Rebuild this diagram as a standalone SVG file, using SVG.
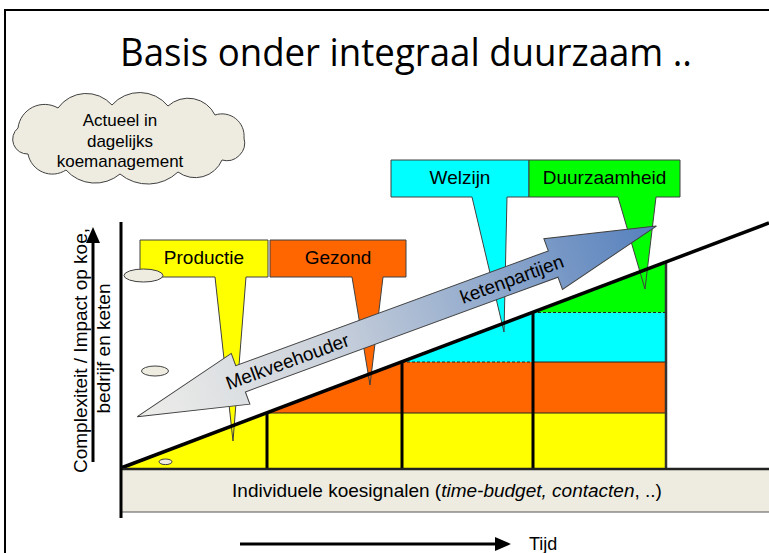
<svg xmlns="http://www.w3.org/2000/svg" width="769" height="553" viewBox="0 0 769 553">
<defs>
<linearGradient id="arrowGrad" gradientUnits="userSpaceOnUse" x1="0" y1="0" x2="553" y2="0">
<stop offset="0" stop-color="#EEEEEA"/>
<stop offset="0.35" stop-color="#CDD3DC"/>
<stop offset="1" stop-color="#5580BD"/>
</linearGradient>
<marker id="ah" markerWidth="16" markerHeight="14" refX="0" refY="7" orient="auto" markerUnits="userSpaceOnUse">
<path d="M0,0 L16,7 L0,14 Z" fill="#000"/>
</marker>
</defs>
<style>
text{font-family:"Liberation Sans",Arial,sans-serif;fill:#000;}
.lbl{font-size:19px;text-anchor:middle;}
.co{stroke:#404040;stroke-width:1;}
.bub{fill:#EEECE1;stroke:#404040;stroke-width:1;}
.thin{stroke:#222;stroke-width:1;fill:none;}
.dash{stroke:#222;stroke-width:1;stroke-dasharray:3,2;fill:none;}
.thick{stroke:#000;stroke-width:3;fill:none;}
</style>
<rect width="769" height="553" fill="#fff"/>
<rect x="5" y="10" width="800" height="600" fill="none" stroke="#000" stroke-width="2"/>
<text x="120" y="66" font-size="38" textLength="572" lengthAdjust="spacingAndGlyphs" style="font-family:'Open Sans','Liberation Sans',sans-serif">Basis onder integraal duurzaam ..</text>

<g id="cloud">
<path class="bub" d="M18,128 A26.8,26.8 0 0 1 58,108 A34.6,34.6 0 0 1 112,105 A36.7,36.7 0 0 1 168,106 A29.9,29.9 0 0 1 215,115 A22.1,22.1 0 0 1 244,138 A17.9,17.9 0 0 1 222,160 A29.1,29.1 0 0 1 178,172 A43.7,43.7 0 0 1 120,174 A38.8,38.8 0 0 1 66,170 A24.8,24.8 0 0 1 28,154 A14.7,14.7 0 0 1 18,128 Z"/>
<text x="120" y="126" font-size="17" text-anchor="middle">Actueel in</text>
<text x="120" y="146.5" font-size="17" text-anchor="middle">dagelijks</text>
<text x="120" y="167" font-size="17" text-anchor="middle">koemanagement</text>
</g>

<g id="y-axis-label">
<text class="lbl" transform="translate(86.7,350.5) rotate(-90)">Complexiteit / Impact op koe,</text>
<text class="lbl" transform="translate(110,348.5) rotate(-90)">bedrijf en keten</text>
</g>

<g id="bars">
<polygon points="121,468 267,412.8 267,469 121,469" fill="#FFFF00"/>
<rect x="267" y="413" width="399" height="56" fill="#FFFF00"/>
<polygon points="267,413 402,361.8 402,413" fill="#FF6600"/>
<rect x="402" y="362" width="264" height="51" fill="#FF6600"/>
<polygon points="402,362 533,312.2 533,362" fill="#00FFFF"/>
<rect x="533" y="312.5" width="133" height="49.5" fill="#00FFFF"/>
<polygon points="533,312.5 666,261.9 666,312.5" fill="#00FF00"/>
<line class="thin" x1="267" y1="413" x2="666" y2="413"/>
<line class="dash" x1="402" y1="362" x2="533" y2="362"/>
<line class="thin" x1="533" y1="362" x2="666" y2="362"/>
<line class="dash" x1="533" y1="312.5" x2="666" y2="312.5"/>
</g>

<g id="base-box">
<rect x="121" y="469" width="660" height="43" fill="#EEECE1" stroke="#555" stroke-width="1"/>
<text class="lbl" x="447" y="497">Individuele koesignalen (<tspan font-style="italic">time-budget, contacten</tspan>, ..)</text>
</g>

<g id="callout-productie">
<path class="co" fill="#FFFF00" d="M140,240 H268 V277 H246 L233,441 L215,277 H140 Z"/>
<text class="lbl" x="204" y="264">Productie</text>
</g>
<g id="callout-gezond">
<path class="co" fill="#FF6600" d="M270,240 H406 V277 H383 L370,385 L352,277 H270 Z"/>
<text class="lbl" x="338" y="264">Gezond</text>
</g>
<g id="callout-welzijn">
<path class="co" fill="#00FFFF" d="M391,160 H529 V197 H507 L504,332 L472,197 H391 Z"/>
<text class="lbl" x="460" y="184">Welzijn</text>
</g>
<g id="callout-duurzaamheid">
<path class="co" fill="#00FF00" d="M529,160 H680 V197 H656 L645,289 L618,197 H529 Z"/>
<text class="lbl" x="604.5" y="184">Duurzaamheid</text>
</g>

<g id="chart-lines">
<line class="thick" x1="267" y1="412.8" x2="267" y2="469"/>
<line class="thick" x1="402" y1="361.8" x2="402" y2="469"/>
<line class="thick" x1="533" y1="312.2" x2="533" y2="469"/>
<line x1="666" y1="261.9" x2="666" y2="469" stroke="#333" stroke-width="2.5"/>
<line x1="121" y1="468" x2="769" y2="223" stroke="#000" stroke-width="3.5"/>
<line x1="121" y1="469" x2="769" y2="469" stroke="#222" stroke-width="2.5"/>
<line x1="121" y1="222" x2="121" y2="518" stroke="#000" stroke-width="3"/>
</g>

<g id="double-arrow" transform="translate(137.3,416.7) rotate(-20.16)">
<path d="M0,0 L110,-27 L110,-14 L443,-14 L443,-27 L553,0 L443,27 L443,14 L110,14 L110,27 Z" fill="url(#arrowGrad)" stroke="#404040" stroke-width="1"/>
<text class="lbl" x="160" y="6.5" fill="#111">Melkveehouder</text>
<text class="lbl" x="399" y="6.5" fill="#111">ketenpartijen</text>
</g>

<g id="connectors">
<ellipse class="bub" cx="143.5" cy="275.5" rx="19.5" ry="6.5"/>
<ellipse class="bub" cx="155" cy="371" rx="13.5" ry="5"/>
<ellipse class="bub" cx="165.5" cy="461.8" rx="6.5" ry="2.8"/>
<line x1="93" y1="462" x2="93" y2="243" stroke="#000" stroke-width="3" marker-end="url(#ah)"/>
<line x1="240" y1="544" x2="495" y2="544" stroke="#000" stroke-width="3" marker-end="url(#ah)"/>
</g>

<g id="time-label">
<text x="529" y="550" font-size="18">Tijd</text>
</g>
</svg>
